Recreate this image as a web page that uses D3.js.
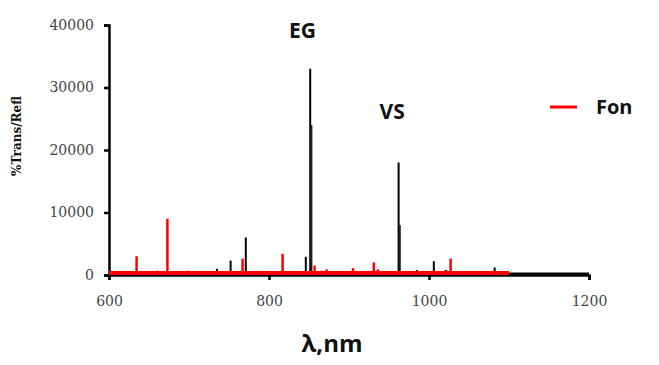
<!DOCTYPE html>
<html>
<head>
<meta charset="utf-8">
<script src="https://cdn.jsdelivr.net/npm/d3@7"></script>
<style>
  body { margin: 0; background: #fff; }
  svg { display: block; }
</style>
</head>
<body>
<div id="chart"></div>
<script>
// sample spectrum (black) - peak wavelengths (nm) and intensities
const sampleNm  = [735, 752, 771, 846, 851.5, 853, 881, 911, 962, 963.5, 985, 1006, 1021, 1082];
const sampleVal = [1000, 2300, 6000, 2900, 33000, 24000, 500, 500, 18000, 8000, 800, 2200, 800, 1200];
const sampleRange = [600, 1200];

// background "Fon" spectrum (red)
const fonNm  = [608, 615, 621, 626, 634.5, 640, 645, 652, 661, 667, 673, 680, 687, 693, 699, 705,
                711, 716, 722, 729, 735, 740, 745, 751, 757, 761, 767, 775, 782, 789, 795, 802,
                809, 817, 826, 832, 839, 845, 857, 862, 866, 872, 879, 886, 893, 898, 905, 911,
                917, 924, 931, 936, 941, 947, 953, 958, 970, 976, 983, 991, 997, 1003, 1010,
                1016, 1022, 1027, 1033, 1039, 1046, 1054, 1060, 1064, 1070, 1076, 1083, 1090, 1096];
const fonVal = [300, 350, 300, 500, 3000, 350, 400, 350, 700, 400, 9000, 450, 600, 400, 700, 350,
                400, 500, 350, 450, 500, 400, 600, 450, 500, 400, 2600, 450, 350, 500, 350, 400,
                450, 3400, 600, 450, 500, 400, 1500, 600, 700, 900, 500, 450, 600, 400, 1100, 450,
                500, 600, 2000, 900, 500, 500, 450, 400, 500, 450, 350, 600, 500, 450, 600,
                500, 700, 2600, 500, 500, 400, 400, 350, 400, 350, 400, 350, 300, 300];
const fonRange = [600, 1100];
const fonBase = 150;

const xTicks = [600, 800, 1000, 1200];
const yTicks = [0, 10000, 20000, 30000, 40000];

const peakLabels = [
  { text: 'EG', nm: 842, val: 38000 },
  { text: 'VS', nm: 954, val: 25000 }
];

const W = 659, H = 365;
const margin = { top: 25, right: 70, bottom: 90, left: 109 };

const svg = d3.select('#chart').append('svg')
  .attr('width', W)
  .attr('height', H);

const x = d3.scaleLinear().domain([600, 1200]).range([margin.left, 589]);
const y = d3.scaleLinear().domain([0, 40000]).range([275, margin.top]);

// axes
const xAxis = d3.axisBottom(x).tickValues(xTicks).tickSize(5).tickFormat(d3.format('d'));
const yAxis = d3.axisLeft(y).tickValues(yTicks).tickSize(5).tickFormat(d3.format('d'));

const gx = svg.append('g').attr('transform', 'translate(0,' + y(0) + ')').call(xAxis);
const gy = svg.append('g').attr('transform', 'translate(' + x(600) + ',0)').call(yAxis);

[gx, gy].forEach(g => {
  g.attr('font-family', '"DejaVu Serif", serif').attr('font-size', 14);
  g.select('.domain').attr('stroke', '#000').attr('stroke-width', 2.5);
  g.selectAll('.tick line').attr('stroke', '#000').attr('stroke-width', 2.5);
  g.selectAll('.tick text').attr('fill', '#444');
});
gx.selectAll('.tick text').attr('dy', '1.65em');
gy.selectAll('.tick text').attr('x', -15);

// sample spectrum: flat baseline + spikes
svg.append('line')
  .attr('x1', x(sampleRange[0])).attr('x2', x(sampleRange[1]))
  .attr('y1', y(0) - 1).attr('y2', y(0) - 1)
  .attr('stroke', '#000').attr('stroke-width', 3);

svg.append('g').selectAll('line')
  .data(sampleNm.map((d, i) => ({ nm: d, v: sampleVal[i] })))
  .join('line')
  .attr('x1', d => x(d.nm)).attr('x2', d => x(d.nm))
  .attr('y1', y(0)).attr('y2', d => y(d.v))
  .attr('stroke', d => d.v === 24000 || d.v === 8000 ? '#222' : '#000')
  .attr('stroke-width', 2);

// Fon spectrum on top
svg.append('line')
  .attr('x1', x(fonRange[0])).attr('x2', x(fonRange[1]))
  .attr('y1', y(fonBase) - 1).attr('y2', y(fonBase) - 1)
  .attr('stroke', '#ff0000').attr('stroke-width', 4);

svg.append('g').selectAll('line')
  .data(fonNm.map((d, i) => ({ nm: d, v: fonVal[i] })))
  .join('line')
  .attr('x1', d => x(d.nm)).attr('x2', d => x(d.nm))
  .attr('y1', y(0)).attr('y2', d => y(d.v))
  .attr('stroke', '#ff0000')
  .attr('stroke-width', 2.5);

// peak labels
svg.append('g').selectAll('text')
  .data(peakLabels)
  .join('text')
  .attr('x', d => x(d.nm))
  .attr('y', d => y(d.val))
  .attr('text-anchor', 'middle')
  .style('font-family', '"Open Sans", sans-serif')
  .style('font-weight', 'bold')
  .style('font-size', '21px')
  .attr('fill', '#111')
  .text(d => d.text);

// legend
const legend = svg.append('g').attr('transform', 'translate(550,107)');
legend.append('line').attr('x1', 0).attr('x2', 27).attr('y1', 0).attr('y2', 0)
  .attr('stroke', '#ff0000').attr('stroke-width', 3);
legend.append('text').attr('x', 46).attr('y', 7)
  .style('font-family', '"Open Sans", sans-serif')
  .style('font-weight', 'bold')
  .style('font-size', '20px')
  .attr('fill', '#111')
  .text('Fon');

// axis titles
svg.append('text')
  .attr('x', 332).attr('y', 352)
  .attr('text-anchor', 'middle')
  .style('font-family', '"Open Sans", sans-serif')
  .style('font-weight', 'bold')
  .style('font-size', '24px')
  .attr('fill', '#111')
  .text('λ,nm');

svg.append('text')
  .attr('transform', 'translate(21,136) rotate(-90)')
  .attr('text-anchor', 'middle')
  .style('font-family', '"DejaVu Serif", serif')
  .style('font-weight', 'bold')
  .style('font-size', '12px')
  .attr('fill', '#111')
  .text('%Trans/Refl');
</script>
</body>
</html>
